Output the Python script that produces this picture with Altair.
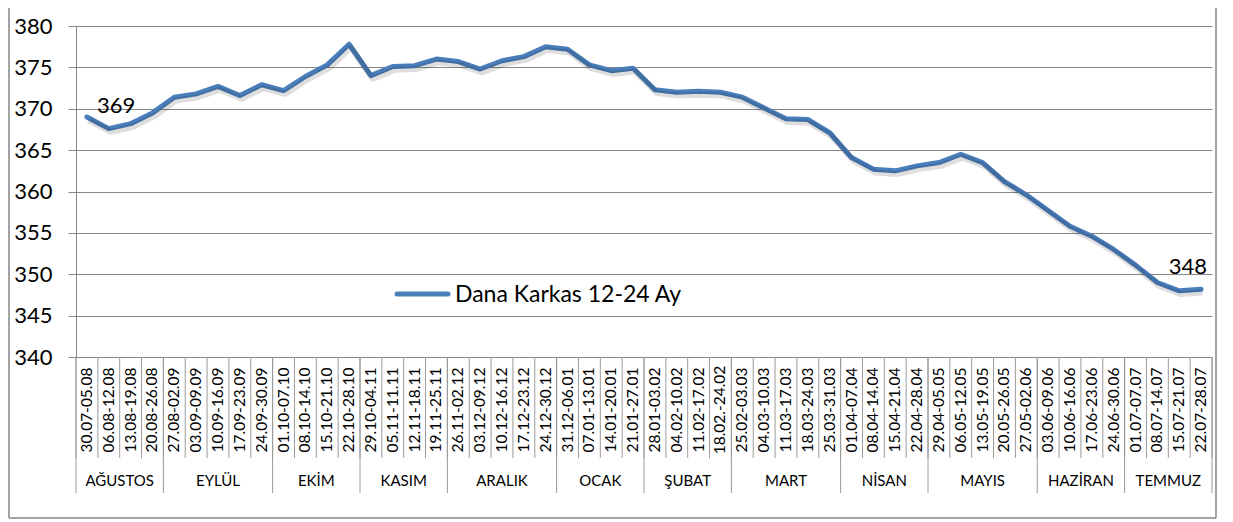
import altair as alt
import numpy as np
import pandas as pd

weeks = [
    "30.07-05.08", "06.08-12.08", "13.08-19.08", "20.08-26.08",
    "27.08-02.09", "03.09-09.09", "10.09-16.09", "17.09-23.09", "24.09-30.09",
    "01.10-07.10", "08.10-14.10", "15.10-21.10", "22.10-28.10",
    "29.10-04.11", "05.11-11.11", "12.11-18.11", "19.11-25.11",
    "26.11-02.12", "03.12-09.12", "10.12-16.12", "17.12-23.12", "24.12-30.12",
    "31.12-06.01", "07.01-13.01", "14.01-20.01", "21.01-27.01",
    "28.01-03.02", "04.02-10.02", "11.02-17.02", "18.02.-24.02",
    "25.02-03.03", "04.03-10.03", "11.03-17.03", "18.03-24.03", "25.03-31.03",
    "01.04-07.04", "08.04-14.04", "15.04-21.04", "22.04-28.04",
    "29.04-05.05", "06.05-12.05", "13.05-19.05", "20.05-26.05", "27.05-02.06",
    "03.06-09.06", "10.06-16.06", "17.06-23.06", "24.06-30.06",
    "01.07-07.07", "08.07-14.07", "15.07-21.07", "22.07-28.07",
]
months = ["AĞUSTOS", "EYLÜL", "EKİM", "KASIM", "ARALIK", "OCAK", "ŞUBAT",
          "MART", "NİSAN", "MAYIS", "HAZİRAN", "TEMMUZ"]
month_weeks = [4, 5, 4, 4, 5, 4, 4, 5, 4, 5, 4, 4]
values = [
    369.0, 367.6, 368.2, 369.5,
    371.4, 371.8, 372.7, 371.6, 372.9,
    372.2, 373.9, 375.3, 377.8,
    374.0, 375.1, 375.2, 376.0,
    375.7, 374.8, 375.8, 376.3, 377.5,
    377.2, 375.3, 374.6, 374.9,
    372.3, 372.0, 372.1, 372.0,
    371.4, 370.1, 368.8, 368.7, 367.1,
    364.1, 362.7, 362.5, 363.1,
    363.5, 364.5, 363.5, 361.2, 359.6,
    357.7, 355.8, 354.6, 353.0,
    351.1, 349.0, 348.0, 348.2,
]
series_name = "Dana Karkas 12-24 Ay"
y_ticks = [340, 345, 350, 355, 360, 365, 370, 375, 380]

FONT = "Lato"
LINE_COLOR = "#4A7EBB"
GRID = "#868686"
SEP = "#9A9A9A"
W, H = 1136, 331

n = len(weeks)
df = pd.DataFrame({"week": weeks, "value": values, "pos": np.arange(n) + 0.5})
bounds = [int(b) for b in np.concatenate([[0], np.cumsum(month_weeks)])]
mdf = pd.DataFrame({
    "month": months,
    "center": [(bounds[i] + bounds[i + 1]) / 2.0 for i in range(len(months))],
})
week_b = pd.DataFrame({"b": list(range(n + 1))})
month_b = pd.DataFrame({"b": bounds})
first_df = df.iloc[[0]].reset_index(drop=True)
last_df = df.iloc[[n - 1]].reset_index(drop=True)

xs = alt.Scale(domain=[0, n], nice=False, zero=False)
ys = alt.Scale(domain=[340, 380], nice=False, zero=False)
yaxis = alt.Axis(
    values=y_ticks, grid=True, gridColor=GRID, gridWidth=1,
    tickColor=GRID, tickSize=8, domainColor=GRID, domainWidth=1,
    labelFont=FONT, labelFontSize=22, labelColor="black",
    labelPadding=16, title=None)


def X(field):
    return alt.X(field, type="quantitative", scale=xs, axis=None)


def Y(field):
    return alt.Y(field, type="quantitative", scale=ys, axis=yaxis)


base = alt.Chart(df)

shadow = base.transform_calculate(
    sy="datum.value - 0.4", sx="datum.pos + 0.08"
).mark_line(color="#000000", opacity=0.13, strokeWidth=6, strokeJoin="round").encode(
    x=X("sx"), y=Y("sy"),
)

line = base.mark_line(color=LINE_COLOR, strokeWidth=5, strokeJoin="round",
                      strokeCap="round").encode(x=X("pos"), y=Y("value"))

first_lbl = alt.Chart(first_df).mark_text(
    font=FONT, fontSize=22, color="black", align="left", baseline="alphabetic",
    dx=10, dy=-4).encode(
    x=X("pos"), y=Y("value"), text=alt.Text("value:Q", format=".0f"))
last_lbl = alt.Chart(last_df).mark_text(
    font=FONT, fontSize=22, color="black", align="right", baseline="alphabetic",
    dx=6, dy=-15).encode(
    x=X("pos"), y=Y("value"), text=alt.Text("value:Q", format=".0f"))

week_sep = alt.Chart(week_b).mark_rule(color=SEP, strokeWidth=1).encode(
    x=X("b"), y=alt.value(H), y2=alt.value(H + 101))
month_sep = alt.Chart(month_b).mark_rule(color=SEP, strokeWidth=1).encode(
    x=X("b"), y=alt.value(H), y2=alt.value(H + 136))

week_text = base.mark_text(font=FONT, fontSize=15.5, color="black", angle=270,
                           align="center", baseline="middle").encode(
    x=X("pos"), y=alt.value(H + 53), text="week:N")
month_text = alt.Chart(mdf).mark_text(font=FONT, fontSize=15, color="black",
                                      align="center", baseline="middle").encode(
    x=X("center"), y=alt.value(H + 124), text="month:N")

legend_df = pd.DataFrame({"name": [series_name]})
leg_line = alt.Chart(legend_df).mark_rule(color=LINE_COLOR, strokeWidth=5,
                                          strokeCap="round").encode(
    x=alt.value(321), x2=alt.value(372), y=alt.value(268))
leg_text = alt.Chart(legend_df).mark_text(font=FONT, fontSize=23, color="black",
                                          align="left", baseline="middle").encode(
    x=alt.value(379), y=alt.value(269), text="name:N")

BOT = 492
border_left = alt.Chart(legend_df).mark_rule(color=GRID, strokeWidth=1.5).encode(
    x=alt.value(-67), y=alt.value(-18), y2=alt.value(BOT))
border_right = alt.Chart(legend_df).mark_rule(color=GRID, strokeWidth=1.5).encode(
    x=alt.value(1140), y=alt.value(-18), y2=alt.value(BOT))
border_bottom = alt.Chart(legend_df).mark_rule(color=GRID, strokeWidth=1.5).encode(
    x=alt.value(-67), x2=alt.value(1140), y=alt.value(BOT))

chart = alt.layer(
    line, shadow, week_sep, month_sep, week_text, month_text,
    first_lbl, last_lbl, leg_line, leg_text,
    border_left, border_right, border_bottom,
).properties(
    width=W, height=H,
    autosize=alt.AutoSizeParams(type="none"),
    padding={"left": 68, "top": 18, "right": 8, "bottom": 163},
    background="white",
).configure_view(strokeWidth=0)

chart.save("out.html", embed_options={"renderer": "svg", "actions": False})
